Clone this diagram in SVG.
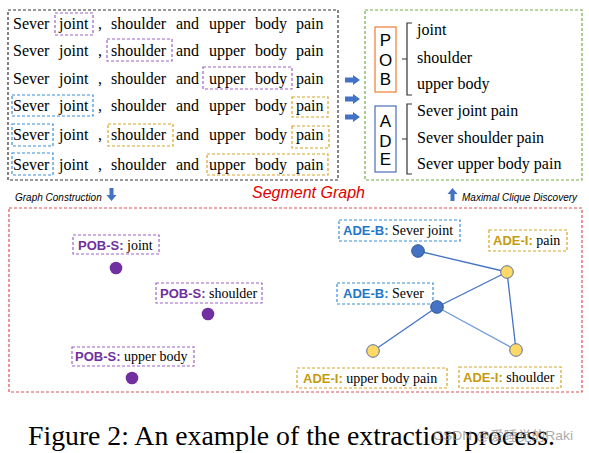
<svg xmlns="http://www.w3.org/2000/svg" width="589" height="453" viewBox="0 0 589 453">
<style>
.w{font-family:"Liberation Serif",serif;font-size:16px;fill:#000}
.d{fill:none;stroke-width:1.2;stroke-dasharray:3 2}
.pur{stroke:#9E62C9}
.blu{stroke:#3A8ED6}
.org{stroke:#D6A62A}
.let{font-family:"Liberation Sans",Arial,sans-serif;font-size:17px;fill:#000;text-anchor:middle}
.it{font-family:"Liberation Sans",Arial,sans-serif;font-style:italic;font-size:10px;fill:#000}
.lb{font-family:"Liberation Sans",Arial,sans-serif;font-weight:bold;font-size:13px}
.sf{font-family:"Liberation Serif",serif;font-size:14px;fill:#000}
.pc{fill:#7030A0}
.bc{fill:#1F77C8}
.yc{fill:#C39A12}
.edge{stroke:#4472C4;stroke-width:1.3;fill:none}
.arr{fill:#4472C4}
</style>

<!-- top-left sentences box -->
<g id="sentences">
<rect x="8" y="10" width="330" height="170" class="d" style="stroke:#333"/>
<g class="w">
<text y="29"><tspan x="13">Sever</tspan><tspan x="59">joint</tspan><tspan x="98">,</tspan><tspan x="111">shoulder</tspan><tspan x="176">and</tspan><tspan x="209">upper</tspan><tspan x="255">body</tspan><tspan x="296">pain</tspan></text>
<text y="56"><tspan x="13">Sever</tspan><tspan x="59">joint</tspan><tspan x="98">,</tspan><tspan x="111">shoulder</tspan><tspan x="176">and</tspan><tspan x="209">upper</tspan><tspan x="255">body</tspan><tspan x="296">pain</tspan></text>
<text y="84"><tspan x="13">Sever</tspan><tspan x="59">joint</tspan><tspan x="98">,</tspan><tspan x="111">shoulder</tspan><tspan x="176">and</tspan><tspan x="209">upper</tspan><tspan x="255">body</tspan><tspan x="296">pain</tspan></text>
<text y="111"><tspan x="13">Sever</tspan><tspan x="59">joint</tspan><tspan x="98">,</tspan><tspan x="111">shoulder</tspan><tspan x="176">and</tspan><tspan x="209">upper</tspan><tspan x="255">body</tspan><tspan x="296">pain</tspan></text>
<text y="140"><tspan x="13">Sever</tspan><tspan x="59">joint</tspan><tspan x="98">,</tspan><tspan x="111">shoulder</tspan><tspan x="176">and</tspan><tspan x="209">upper</tspan><tspan x="255">body</tspan><tspan x="296">pain</tspan></text>
<text y="170"><tspan x="13">Sever</tspan><tspan x="59">joint</tspan><tspan x="98">,</tspan><tspan x="111">shoulder</tspan><tspan x="176">and</tspan><tspan x="209">upper</tspan><tspan x="255">body</tspan><tspan x="296">pain</tspan></text>
</g>
<rect x="55" y="13" width="38" height="22" class="d pur"/>
<rect x="107" y="39" width="65" height="22" class="d pur"/>
<rect x="203" y="67" width="89" height="22" class="d pur"/>
<rect x="12" y="95" width="81" height="21" class="d blu"/>
<rect x="292" y="97" width="36" height="20" class="d org"/>
<rect x="12" y="124" width="41" height="22" class="d blu"/>
<rect x="108" y="124" width="65" height="22" class="d org"/>
<rect x="292" y="126" width="37" height="22" class="d org"/>
<rect x="12" y="153" width="41" height="22" class="d blu"/>
<rect x="207" y="154" width="121" height="21" class="d org"/>
</g>

<!-- middle arrows -->
<g id="mid-arrows" class="arr">
<path d="M345,77.5 H353 V75 L360,80 L353,85 V82.5 H345 Z"/>
<path d="M345,96.5 H353 V94 L360,99 L353,104 V101.5 H345 Z"/>
<path d="M345,114.5 H353 V112 L360,117 L353,122 V119.5 H345 Z"/>
</g>

<!-- right result box -->
<g id="results">
<rect x="365" y="10" width="217" height="170" class="d" style="stroke:#70AD47"/>
<rect x="375" y="27" width="21" height="65" fill="none" stroke="#ED7D31" stroke-width="1.2"/>
<text class="let" x="385.5" y="46">P</text>
<text class="let" x="385.5" y="66">O</text>
<text class="let" x="385.5" y="85">B</text>
<rect x="375" y="106" width="21" height="66" fill="none" stroke="#4A6FB5" stroke-width="1.2"/>
<text class="let" x="385.5" y="127">A</text>
<text class="let" x="385.5" y="147">D</text>
<text class="let" x="385.5" y="165">E</text>
<path d="M412,23 H407 V95 H412 M407,59 H402 M412,104 H407 V174 H412 M407,139 H402" fill="none" stroke="#333" stroke-width="1.2"/>
<g class="w">
<text x="417" y="35">joint</text>
<text x="417" y="63">shoulder</text>
<text x="417" y="89">upper body</text>
<text x="417" y="116">Sever joint pain</text>
<text x="417" y="143">Sever shoulder pain</text>
<text x="417" y="169">Sever upper body pain</text>
</g>
</g>

<!-- labels between -->
<g id="captions-mid">
<text class="it" x="15" y="201">Graph Construction</text>
<path class="arr" d="M109.5,188 H113.5 V195 H116.5 L111.5,201 L106.5,195 H109.5 Z"/>
<text x="252" y="198" font-family="Liberation Sans, Arial, sans-serif" font-style="italic" font-size="16" fill="#E00000">Segment Graph</text>
<path class="arr" d="M450.5,201 H454.5 V194 H457.5 L452.5,188 L447.5,194 H450.5 Z"/>
<text class="it" x="462" y="201">Maximal Clique Discovery</text>
</g>

<!-- segment graph box -->
<rect x="9" y="208" width="573" height="184" class="d" style="stroke:#E05050"/>

<g id="connectors">
<line class="edge" x1="418" y1="251" x2="507" y2="272"/>
<line class="edge" x1="437" y1="307" x2="507" y2="272"/>
<line class="edge" x1="507" y1="272" x2="516" y2="350"/>
<line class="edge" x1="437" y1="307" x2="373" y2="351"/>
<line class="edge" x1="437" y1="307" x2="516" y2="350" style="stroke:#6F9BDA"/>
</g>

<g id="pob-joint">
<rect x="73" y="235" width="86" height="19" class="d pur"/>
<text x="78" y="250"><tspan class="lb pc">POB-S:</tspan><tspan class="sf"> joint</tspan></text>
<circle cx="116" cy="268" r="6.3" fill="#7030A0"/>
</g>
<g id="pob-shoulder">
<rect x="156" y="283" width="106" height="20" class="d pur"/>
<text x="160" y="298"><tspan class="lb pc">POB-S:</tspan><tspan class="sf"> shoulder</tspan></text>
<circle cx="208" cy="314" r="6.3" fill="#7030A0"/>
</g>
<g id="pob-upper">
<rect x="72" y="347" width="122" height="19" class="d pur"/>
<text x="75" y="361"><tspan class="lb pc">POB-S:</tspan><tspan class="sf"> upper body</tspan></text>
<circle cx="132" cy="378" r="6.3" fill="#7030A0"/>
</g>

<g id="ade-b-sever-joint">
<rect x="339" y="220" width="121" height="21" class="d blu"/>
<text x="343" y="235"><tspan class="lb bc">ADE-B:</tspan><tspan class="sf"> Sever joint</tspan></text>
<circle cx="418" cy="251" r="6.3" fill="#4472C4" stroke="#2F5597" stroke-width="1"/>
</g>
<g id="ade-i-pain">
<rect x="489" y="230" width="78" height="21" class="d org"/>
<text x="493" y="245"><tspan class="lb yc">ADE-I:</tspan><tspan class="sf"> pain</tspan></text>
<circle cx="507" cy="272" r="6.3" fill="#FFD966" stroke="#5B6F9E" stroke-width="1"/>
</g>
<g id="ade-b-sever">
<rect x="337" y="283" width="96" height="21" class="d blu"/>
<text x="343" y="298"><tspan class="lb bc">ADE-B:</tspan><tspan class="sf"> Sever</tspan></text>
<circle cx="437" cy="307" r="6.3" fill="#4472C4" stroke="#2F5597" stroke-width="1"/>
</g>
<g id="ade-i-upper">
<rect x="297" y="368" width="150" height="20" class="d org"/>
<text x="303" y="383"><tspan class="lb yc">ADE-I:</tspan><tspan class="sf"> upper body pain</tspan></text>
<circle cx="373" cy="351" r="6.3" fill="#FFD966" stroke="#5B6F9E" stroke-width="1"/>
</g>
<g id="ade-i-shoulder">
<rect x="459" y="367" width="102" height="21" class="d org"/>
<text x="463" y="382"><tspan class="lb yc">ADE-I:</tspan><tspan class="sf"> shoulder</tspan></text>
<circle cx="516" cy="350" r="6.3" fill="#FFD966" stroke="#5B6F9E" stroke-width="1"/>
</g>

<text x="28" y="445" font-family="Liberation Serif, serif" font-size="27.5" fill="#000" textLength="527" lengthAdjust="spacingAndGlyphs">Figure 2: An example of the extraction process.</text>
<text x="433" y="440" font-family="Liberation Sans, 'Noto Sans CJK SC', sans-serif" font-size="13" fill="#888" opacity="0.7" textLength="140" lengthAdjust="spacingAndGlyphs">CSDN @爱睡觉的Raki</text>
</svg>
